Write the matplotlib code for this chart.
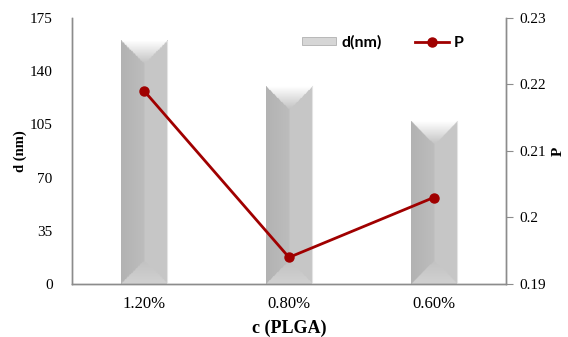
import numpy as np
import matplotlib.pyplot as plt
from matplotlib.patches import Patch
from matplotlib.lines import Line2D

categories = ["1.20%", "0.80%", "0.60%"]
d_nm = [160, 130, 107]
p_vals = [0.219, 0.194, 0.203]

d_ticks = [0, 35, 70, 105, 140, 175]
p_ticks = [0.19, 0.2, 0.21, 0.22, 0.23]
p_ticklabels = ["0.19", "0.2", "0.21", "0.22", "0.23"]

bar_w = 0.32
line_col = "#a00000"
axis_col = "#8c8c8c"


def bevel_image(n_w=60, n_h=200, aspect=1.0):
    # nearest-edge shading: top/bottom triangles, darker left half, lighter right half
    xs = np.linspace(0, 1, n_w)
    ys = np.linspace(0, 1, n_h)  # 0 = top
    X, Y = np.meshgrid(xs, ys)
    dl = X
    dr = 1 - X
    dt = Y * aspect
    db = (1 - Y) * aspect
    idx = np.argmin(np.stack([dl, dr, dt, db]), axis=0)
    img = np.zeros((n_h, n_w))
    img = np.where(idx == 0, 0.70 + 0.04 * np.clip(X / 0.5, 0, 1), img)
    img = np.where(idx == 1, 0.78, img)
    depth_t = np.clip(dt / 0.5, 0, 1)
    img = np.where(idx == 2, 1.0 - 0.24 * depth_t, img)
    depth_b = np.clip(db / 0.5, 0, 1)
    img = np.where(idx == 3, 0.82 - 0.06 * depth_b, img)
    return np.dstack([img, img, img])


fig = plt.figure(figsize=(5.68, 3.37), dpi=100)
ax = fig.add_axes([0.1268, 0.1573, 0.764, 0.7893])
ax2 = ax.twinx()
ax2.set_zorder(ax.get_zorder() + 1)
ax2.patch.set_visible(False)

x = np.arange(len(categories))
bars = ax.bar(x, d_nm, width=bar_w, color="none", edgecolor="none")

# pixel size of the axes, used to keep the bevel at 45 degrees
ax_w_px = 0.764 * 568
ax_h_px = 0.7893 * 337
for rect, val in zip(bars, d_nm):
    x0 = rect.get_x()
    w = rect.get_width()
    w_px = w / 3.0 * ax_w_px
    h_px = val / 175.0 * ax_h_px
    img = bevel_image(aspect=h_px / w_px)
    ax.imshow(img, extent=[x0, x0 + w, 0, val], aspect="auto",
              interpolation="bilinear", zorder=2)
    ax.plot([x0 + w, x0 + w], [0, val], color="#e4e4e4", lw=0.8, zorder=3)

ax.set_xlim(-0.5, 2.5)
ax.set_ylim(0, 175)
ax.set_yticks(d_ticks)
ax.set_xticks(x)
ax.set_xticklabels(categories)

ax2.plot(x, p_vals, color=line_col, lw=2.0, marker="o", ms=6.5, zorder=5)
ax2.set_ylim(0.19, 0.23)
ax2.set_yticks(p_ticks)
ax2.set_yticklabels(p_ticklabels)

serif = "Liberation Serif"
for a in (ax, ax2):
    a.spines["top"].set_visible(False)
    for s in ("left", "right", "bottom"):
        a.spines[s].set_color(axis_col)
        a.spines[s].set_linewidth(1.0)
    for lab in a.get_yticklabels():
        lab.set_fontfamily(serif)
        lab.set_fontsize(11)
for lab in ax.get_xticklabels():
    lab.set_fontfamily(serif)
    lab.set_fontsize(12)
ax.tick_params(axis="y", length=0, pad=14)
ax.tick_params(axis="x", length=0, pad=9)
ax2.tick_params(axis="y", length=5, color=axis_col, direction="out", pad=5)

ax.set_xlabel("c (PLGA)", fontfamily=serif, fontweight="bold", fontsize=13, labelpad=5)
ax.set_ylabel("d (nm)", fontfamily=serif, fontweight="bold", fontsize=10.5, labelpad=2)
ax2.set_ylabel("P", fontfamily=serif, fontweight="bold", fontsize=11, labelpad=4)

handles = [
    Patch(facecolor="#d6d6d6", edgecolor="#b0b0b0", lw=0.6),
    Line2D([0], [0], color=line_col, lw=2.0, marker="o", ms=6.5),
]
leg = ax2.legend(handles, ["d(nm)", "P"], ncol=2, frameon=False,
                 loc="upper left", bbox_to_anchor=(0.53, 0.935),
                 borderaxespad=0, borderpad=0,
                 prop={"family": "Lato", "weight": "bold", "size": 11.5},
                 handlelength=2.1, handleheight=0.35,
                 columnspacing=2.1, handletextpad=0.35)

fig.savefig("out.png", dpi=100)
